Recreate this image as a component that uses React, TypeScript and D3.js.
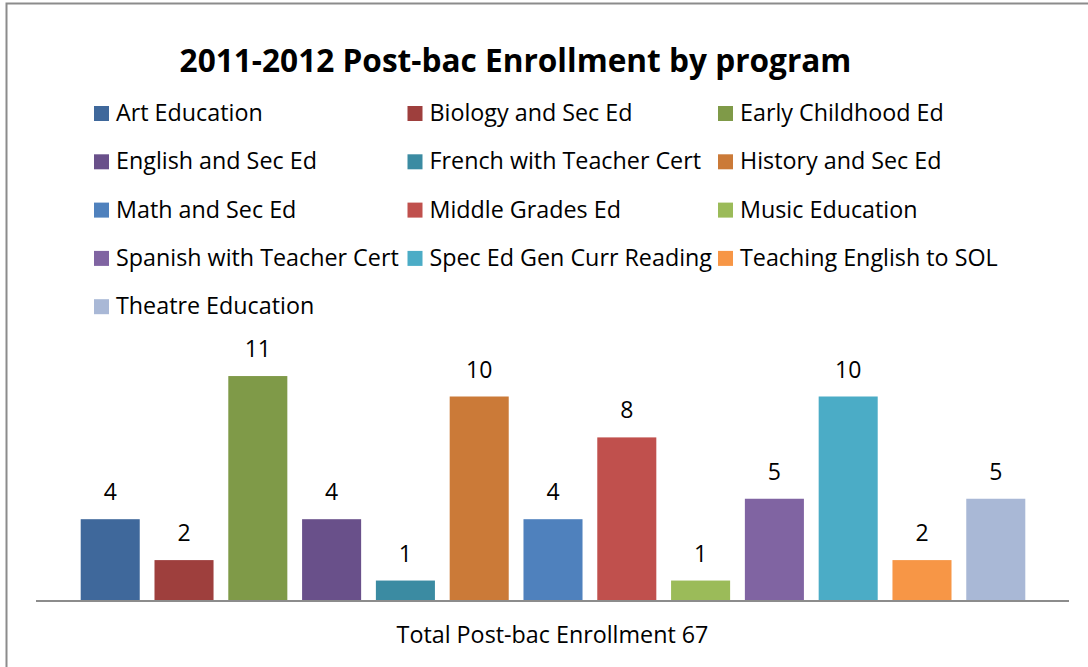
import React from "react";
import * as d3 from "d3";

const programs = [
  "Art Education",
  "Biology and Sec Ed",
  "Early Childhood Ed",
  "English and Sec Ed",
  "French with Teacher Cert",
  "History and Sec Ed",
  "Math and Sec Ed",
  "Middle Grades Ed",
  "Music Education",
  "Spanish with Teacher Cert",
  "Spec Ed Gen Curr Reading",
  "Teaching English to SOL",
  "Theatre Education",
];
const enrollment = [4, 2, 11, 4, 1, 10, 4, 8, 1, 5, 10, 2, 5];
const colors = [
  "#3F689B", "#9E3F3D", "#7F9A48", "#69508A", "#3B8BA2", "#CB7A38",
  "#4F81BD", "#C0504D", "#9BBB59", "#8064A2", "#4BACC6", "#F79646",
  "#A9B8D6",
];
const title = "2011-2012 Post-bac Enrollment by program";
const axisLabel = "Total Post-bac Enrollment 67";

const W = 1088;
const H = 667;
const FONT = "'Open Sans', sans-serif";

export default function App() {
  const x = d3
    .scaleBand<string>()
    .domain(programs)
    .range([80.7, 1025.3])
    .paddingInner(0.2)
    .paddingOuter(0);
  const y = d3.scaleLinear().domain([0, 12]).range([601, 355.6]);

  const legendCols = [94, 407.5, 718];
  const legendRow0 = 121;
  const legendRowStep = 48.3;

  return (
    <svg
      width={W}
      height={H}
      style={{ position: "fixed", left: 0, top: 0, background: "#fff" }}
      fontFamily={FONT}
    >
      <rect x={0} y={0} width={W} height={H} fill="#fff" />
      <rect x={6.5} y={3.5} width={W + 20} height={H + 20} fill="none" stroke="#8C8C8C" strokeWidth={2} />
      <text x={515.5} y={72} textAnchor="middle" fontWeight="bold" fontSize={31.6} fill="#000">
        {title}
      </text>
      {programs.map((p, i) => {
        const col = i % 3;
        const row = Math.floor(i / 3);
        const sx = legendCols[col];
        const by = legendRow0 + row * legendRowStep;
        return (
          <g key={p}>
            <rect x={sx} y={by - 15} width={15} height={15} fill={colors[i]} />
            <text x={sx + 22} y={by} fontSize={23.3} fill="#000">
              {p}
            </text>
          </g>
        );
      })}
      {programs.map((p, i) => (
        <g key={"b" + p}>
          <rect
            x={x(p)}
            y={y(enrollment[i])}
            width={x.bandwidth()}
            height={y(0) - y(enrollment[i])}
            fill={colors[i]}
          />
          <text
            x={(x(p) as number) + x.bandwidth() / 2}
            y={y(enrollment[i]) - 19}
            textAnchor="middle"
            fontSize={23}
            fill="#000"
          >
            {enrollment[i]}
          </text>
        </g>
      ))}
      <line x1={36} x2={1069} y1={601} y2={601} stroke="#8C8C8C" strokeWidth={2} />
      <text x={552.5} y={643} textAnchor="middle" fontSize={23.3} fill="#000">
        {axisLabel}
      </text>
    </svg>
  );
}
